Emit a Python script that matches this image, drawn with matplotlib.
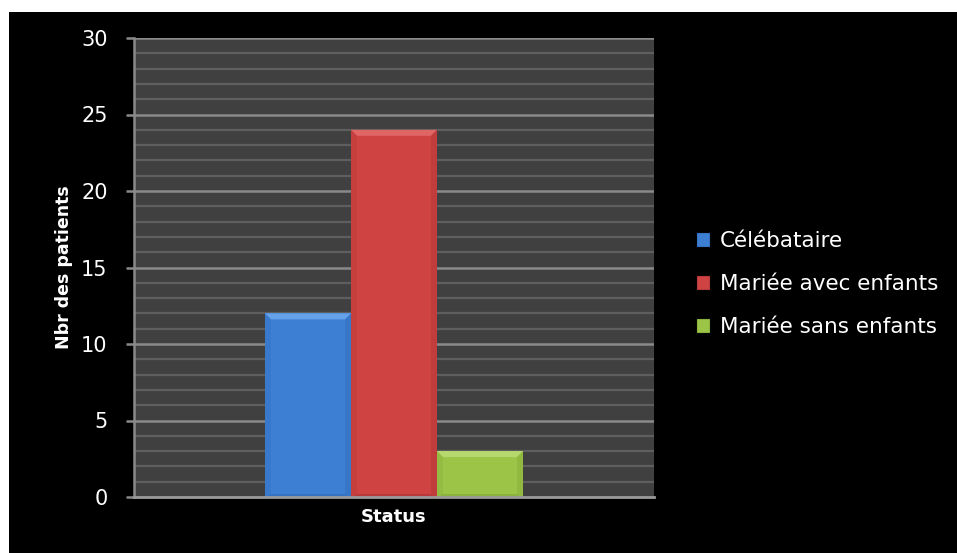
import matplotlib
matplotlib.use("Agg")
import matplotlib.pyplot as plt
from matplotlib.patches import Rectangle, Polygon, Patch

categories = ["Célébataire", "Mariée avec enfants", "Mariée sans enfants"]
values = [12, 24, 3]
group_label = "Status"
y_label = "Nbr des patients"
y_ticks = [0, 5, 10, 15, 20, 25, 30]

colors = ["#3d7fd3", "#cf4343", "#9cc447"]
top_colors = ["#65a2ea", "#e06666", "#b6d86e"]
side_colors = ["#3572c2", "#b83a3a", "#8ab23c"]

FONT = ["DejaVu Sans"]
plt.rcParams["font.family"] = FONT

W, H = 957, 553
fig = plt.figure(figsize=(W / 100, H / 100), dpi=100, facecolor="white")
fig.patches.append(Rectangle((9 / W, 0), 1 - 9 / W, (H - 12) / H,
                             transform=fig.transFigure, facecolor="black",
                             edgecolor="none", zorder=-10))

ax_l, ax_r, ax_t, ax_b = 134, 654, 38, 497
ax = fig.add_axes([ax_l / W, 1 - ax_b / H, (ax_r - ax_l) / W, (ax_b - ax_t) / H])
ax.set_facecolor("#404040")
ax.set_xlim(-0.5, 0.5)
ax.set_ylim(0, 30)

# grid
for y in range(0, 31):
    if y % 5 == 0:
        continue
    ax.axhline(y, color="#5e5e5e", lw=1.6, zorder=1)
for y in y_ticks[1:]:
    ax.axhline(y, color="#8a8a8a", lw=1.8, zorder=1.5)

bw = 86 / (ax_r - ax_l)
px_x = 1.0 / (ax_r - ax_l)
px_y = 30.0 / (ax_b - ax_t)
n = len(values)
offsets = [(i - (n - 1) / 2) * bw for i in range(n)]
for i, (v, off) in enumerate(zip(values, offsets)):
    x0, x1 = off - bw / 2, off + bw / 2
    ax.bar(off, v, width=bw, color=colors[i], edgecolor="none", zorder=3)
    bx, by = 6 * px_x, 6 * px_y
    bb = 3 * px_y
    # top bevel
    ax.add_patch(Polygon([(x0, v), (x1, v), (x1 - bx, v - by), (x0 + bx, v - by)],
                         closed=True, facecolor=top_colors[i], edgecolor="none", zorder=4))
    # side bevels
    ax.add_patch(Polygon([(x0, v), (x0 + bx, v - by), (x0 + bx, bb), (x0, 0)],
                         closed=True, facecolor=side_colors[i], edgecolor="none", zorder=4, alpha=0.4))
    ax.add_patch(Polygon([(x1, v), (x1 - bx, v - by), (x1 - bx, bb), (x1, 0)],
                         closed=True, facecolor=side_colors[i], edgecolor="none", zorder=4, alpha=0.6))
    ax.add_patch(Polygon([(x0, 0), (x1, 0), (x1 - bx, bb), (x0 + bx, bb)],
                         closed=True, facecolor=side_colors[i], edgecolor="none", zorder=4))

for s in ["top", "right"]:
    ax.spines[s].set_visible(False)
ax.spines["left"].set_color("#8a8a8a")
ax.spines["left"].set_linewidth(1.8)
ax.spines["bottom"].set_color("#9a9a9a")
ax.spines["bottom"].set_linewidth(2)
ax.spines["left"].set_zorder(5)
ax.spines["bottom"].set_zorder(5)

ax.set_yticks(y_ticks)
ax.set_yticklabels([str(t) for t in y_ticks])
ax.tick_params(axis="y", colors="#8a8a8a", length=6, width=1.8, labelcolor="white",
               labelsize=15, pad=13)
ax.set_xticks([])
ax.set_xlabel(group_label, color="white", fontsize=13, fontweight="bold", labelpad=8)
ax.set_ylabel(y_label, color="white", fontsize=12.5, fontweight="bold", labelpad=6)

handles = [Patch(facecolor=c, edgecolor=s, linewidth=0.8) for c, s in zip(colors, side_colors)]
leg = fig.legend(handles, categories, loc="center left",
                 bbox_to_anchor=(678 / W, 1 - 284 / H), frameon=False,
                 fontsize=15.5, labelcolor="white", handlelength=0.56, handleheight=0.56,
                 handletextpad=0.47, labelspacing=1.08)

fig.savefig("out.png", dpi=100, facecolor=fig.get_facecolor())
